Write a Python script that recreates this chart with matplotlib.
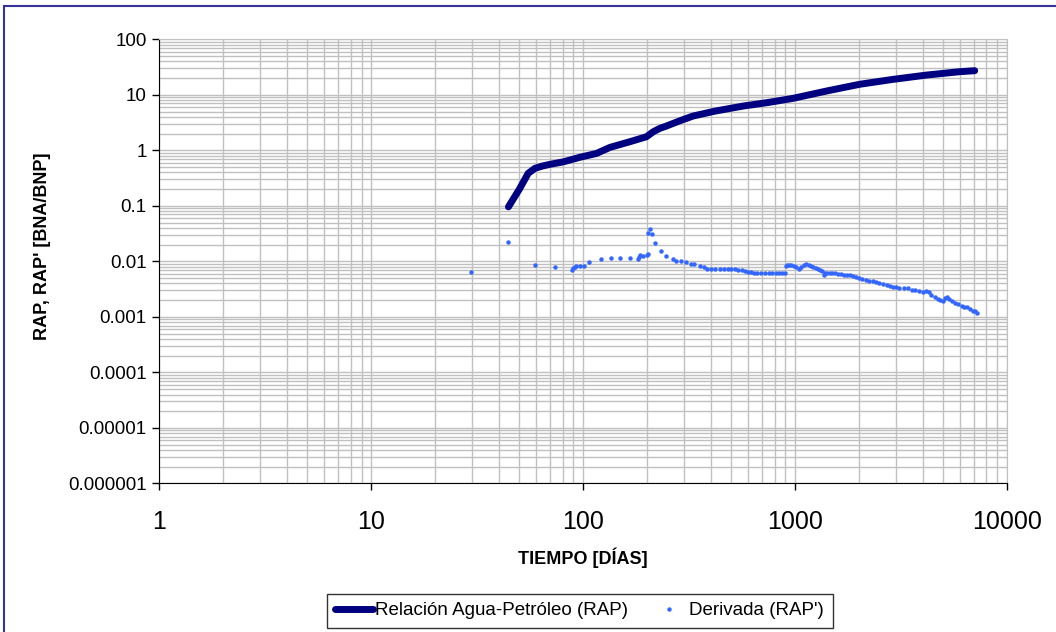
import numpy as np
import matplotlib
matplotlib.use("Agg")
import matplotlib.pyplot as plt
from matplotlib.patches import Rectangle
from matplotlib.ticker import FixedLocator, LogLocator, FuncFormatter, NullFormatter

plt.rcParams['font.family'] = ['Liberation Sans', 'DejaVu Sans']

# Relación Agua-Petróleo (RAP)
rap_t = [44.4, 50, 55, 59.2, 64, 69.7, 80.5, 96.5, 115.6, 133.7, 166, 199,
         214, 230, 247, 286, 330, 420, 569, 750, 979, 1406, 2019, 2902,
         4170, 5980, 7040]
rap_v = [0.096, 0.2, 0.385, 0.474, 0.52, 0.56, 0.62, 0.75, 0.88, 1.13, 1.43,
         1.76, 2.16, 2.49, 2.74, 3.41, 4.15, 5.1, 6.28, 7.3, 8.65, 11.7, 15.5,
         19.0, 22.7, 26.1, 27.2]

# Derivada (RAP')
der_t = [29.4, 44.4, 59.2, 73.5, 88.8, 89.7, 91.4, 93, 96.5, 101, 106.7, 122,
         135.6, 150, 166, 180.6, 183.8, 184.6, 192, 200, 203, 203, 207, 211,
         219, 233, 246.6, 264, 274.6, 290, 306, 322, 335, 354, 370, 385, 400,
         420, 440, 460, 480, 500, 520, 540, 560, 580, 600, 620, 640, 660, 690,
         720, 750, 780, 810, 840, 870, 895, 905, 920, 940, 960, 985, 1010,
         1040, 1070, 1100, 1130, 1160, 1190, 1220, 1250, 1280, 1310, 1340,
         1370, 1390, 1420, 1460, 1500, 1550, 1600, 1650, 1700, 1760, 1820,
         1880, 1940, 2000, 2080, 2160, 2240, 2320, 2400, 2500, 2600, 2700,
         2800, 2900, 3000, 3100, 3250, 3400, 3550, 3700, 3850, 4000, 4150,
         4300, 4400, 4550, 4700, 4850, 5000, 5100, 5200, 5350, 5500, 5700,
         5900, 6100, 6300, 6500, 6700, 6900, 7100, 7200]
der_v = [0.0065, 0.0226, 0.0085, 0.0079, 0.0070, 0.0075, 0.0078, 0.0083,
         0.0084, 0.0084, 0.0096, 0.0109, 0.0116, 0.0116, 0.0116, 0.0109,
         0.0121, 0.0132, 0.0125, 0.0128, 0.0136, 0.0328, 0.0378, 0.0306,
         0.0211, 0.0153, 0.0125, 0.0109, 0.0103, 0.0103, 0.0097, 0.0091,
         0.0091, 0.0084, 0.0078, 0.0074, 0.0072, 0.0072, 0.0072, 0.0072,
         0.0072, 0.0072, 0.0072, 0.0070, 0.0069, 0.0068, 0.0065, 0.0065,
         0.0063, 0.0061, 0.0061, 0.0061, 0.0061, 0.0061, 0.0061, 0.0061,
         0.0061, 0.0061, 0.0083, 0.0086, 0.0086, 0.0085, 0.0083, 0.0078,
         0.0074, 0.0080, 0.0086, 0.0089, 0.0085, 0.0081, 0.0078, 0.0075,
         0.0072, 0.0070, 0.0066, 0.0058, 0.0062, 0.0063, 0.0063, 0.0062,
         0.0062, 0.0060, 0.0059, 0.0058, 0.0057, 0.0056, 0.0054, 0.0052,
         0.0050, 0.0049, 0.0047, 0.0045, 0.0044, 0.0042, 0.0040, 0.0039,
         0.0037, 0.0036, 0.0035, 0.0034, 0.0033, 0.0033, 0.0033, 0.0031,
         0.0030, 0.0029, 0.0028, 0.0029, 0.0028, 0.0025, 0.0023, 0.0021,
         0.0020, 0.0019, 0.0022, 0.0023, 0.0021, 0.0019, 0.0018, 0.0017,
         0.0016, 0.0015, 0.0015, 0.0014, 0.0013, 0.0013, 0.0012]

x_ticks = [1, 10, 100, 1000, 10000]
y_ticks = [1e-6, 1e-5, 1e-4, 1e-3, 1e-2, 1e-1, 1, 10, 100]

fig = plt.figure(figsize=(10.56, 6.32), dpi=100)
ax = fig.add_axes([0.1509, 0.2350, 0.8027, 0.7028])

ax.plot(rap_t, rap_v, color='#000080', lw=5, solid_capstyle='round',
        solid_joinstyle='round', label='Relación Agua-Petróleo (RAP)', zorder=3)
ax.plot(der_t, der_v, 'o', color='#3366FF', ms=3.2, mew=0,
        label="Derivada (RAP')", zorder=4)

ax.set_xscale('log')
ax.set_yscale('log')
ax.set_xlim(1, 10000)
ax.set_ylim(1e-6, 100)

ax.xaxis.set_major_locator(FixedLocator(x_ticks))
ax.yaxis.set_major_locator(FixedLocator(y_ticks))
ax.xaxis.set_minor_locator(LogLocator(base=10, subs=np.arange(2, 10)))
ax.yaxis.set_minor_locator(LogLocator(base=10, subs=np.arange(2, 10), numticks=20))
fmt = FuncFormatter(lambda v, p: np.format_float_positional(v, trim='-'))
ax.xaxis.set_major_formatter(fmt)
ax.yaxis.set_major_formatter(fmt)
ax.xaxis.set_minor_formatter(NullFormatter())
ax.yaxis.set_minor_formatter(NullFormatter())

ax.grid(True, which='both', color='#C0C0C0', lw=1.0)
ax.set_axisbelow(True)
ax.tick_params(which='minor', length=0)
ax.tick_params(axis='y', which='major', length=5, width=1, labelsize=13.5, pad=4)
ax.tick_params(axis='x', which='major', length=5, width=1, labelsize=18, pad=14)
for s in ['top', 'right']:
    ax.spines[s].set_color('#C0C0C0')
for s in ['left', 'bottom']:
    ax.spines[s].set_color('black')

ax.set_xlabel('TIEMPO [DÍAS]', fontsize=13, fontweight='bold', labelpad=10)
ax.set_ylabel("RAP, RAP' [BNA/BNP]", fontsize=13, fontweight='bold')
ax.yaxis.set_label_coords(-0.128, 0.535)

leg = fig.legend(loc='lower center', bbox_to_anchor=(0.549, -0.008), ncol=2,
                 fontsize=13.5, frameon=True, fancybox=False, edgecolor='black',
                 handlelength=2.0, handletextpad=0.1, columnspacing=1.2,
                 borderpad=0.45, markerscale=1.0)
leg.get_frame().set_linewidth(1.0)

fig.patches.append(Rectangle((4 / 1056, -0.1), 1.2, 1.1 - 6 / 632,
                             transform=fig.transFigure, fill=False,
                             edgecolor='#333399', lw=1.5, clip_on=False))

fig.savefig('out.png', dpi=100)
